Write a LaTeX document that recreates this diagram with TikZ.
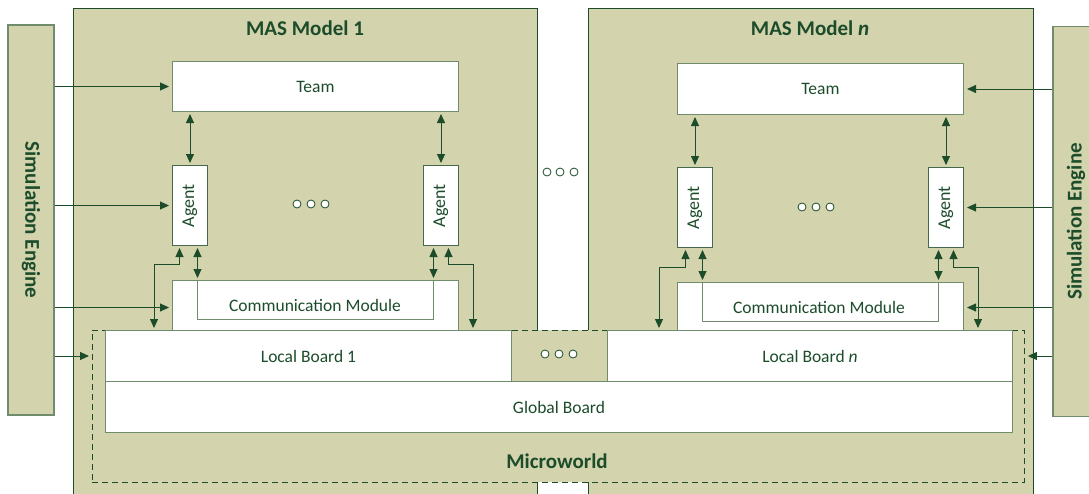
\documentclass[tikz,border=0pt]{standalone}
\usepackage{fontspec}
\setmainfont{Carlito}
\usetikzlibrary{arrows.meta}
\definecolor{olivefill}{RGB}{211,211,173}
\definecolor{dkg}{RGB}{28,76,42}
\definecolor{bord}{RGB}{112,140,108}
\definecolor{agbord}{RGB}{70,105,78}
\begin{document}
\begin{tikzpicture}[x=1pt,y=-1pt,
  box/.style={draw=bord, fill=white, line width=1pt, inner sep=0pt, text=dkg,
    font=\fontsize{17.5}{20}\selectfont, anchor=north west},
  agbox/.style={box, draw=agbord, font=\fontsize{18}{20}\selectfont},
  sebox/.style={draw=bord, fill=olivefill, line width=1.2pt, inner sep=0pt, text=dkg,
    font=\bfseries\fontsize{21}{24}\selectfont, minimum width=46pt, minimum height=390pt},
  masbox/.style={draw=dkg, fill=olivefill, line width=1pt, inner sep=0pt, anchor=north west},
  title/.style={text=dkg, font=\bfseries\fontsize{21}{24}\selectfont, anchor=base, inner sep=0pt},
  arr/.style={draw=dkg, line width=0.9pt, -{Triangle[length=9pt,width=8pt]}, shorten >=3pt},
  dbl/.style={draw=dkg, line width=0.9pt, {Triangle[length=9pt,width=8pt]}-{Triangle[length=9pt,width=8pt]}, shorten >=2pt, shorten <=2pt},
  inner/.style={draw=bord, line width=0.6pt},
  dot/.style={draw=dkg, fill=white, line width=0.8pt}
]
\useasboundingbox (0,0) rectangle (1089,493);
\clip (0,0) rectangle (1089,493);

% MAS model containers
\node[masbox, minimum width=464pt, minimum height=510pt] (mas1) at (73,8) {};
\node[masbox, minimum width=445pt, minimum height=510pt] (masn) at (588,8) {};
\node[title] (t1) at (305,35) {MAS Model 1};
\node[title] (tn) at (810,35) {MAS Model \textit{n}};

% Simulation engines
\node[sebox] (se1) at (31,220) {\rotatebox{-90}{Simulation Engine}};
\node[sebox] (se2) at (1076,221.5) {\rotatebox{90}{Simulation Engine}};

% Microworld
\node[draw=dkg, fill=olivefill, line width=0.9pt, dash pattern=on 6pt off 4pt,
  minimum width=932pt, minimum height=152pt, anchor=north west, inner sep=0pt] (mw) at (92,330) {};
\node[title] (mwt) at (557,468) {Microworld};

% Boards
\node[box, minimum width=406pt, minimum height=51pt] (lb1) at (105,330) {Local Board 1};
\node[box, minimum width=405pt, minimum height=51pt] (lbn) at (607,330) {Local Board \textit{n}};
\node[box, minimum width=907pt, minimum height=51pt] (gb) at (105,381) {Global Board};

% Teams
\node[box, minimum width=286pt, minimum height=50pt] (team1) at (172,61) {Team};
\node[box, minimum width=286pt, minimum height=51pt] (teamn) at (677,63) {Team};

% Agents
\node[agbox, minimum width=35pt, minimum height=80pt] (ag1a) at (172,165) {\rotatebox{90}{Agent}};
\node[agbox, minimum width=35pt, minimum height=80pt] (ag1b) at (423,165) {\rotatebox{90}{Agent}};
\node[agbox, minimum width=35pt, minimum height=80pt] (agna) at (677,167) {\rotatebox{90}{Agent}};
\node[agbox, minimum width=35pt, minimum height=80pt] (agnb) at (928,167) {\rotatebox{90}{Agent}};

% Communication modules
\node[box, minimum width=286pt, minimum height=50pt] (cm1) at (172,280) {};
\node[box, minimum width=286pt, minimum height=48pt] (cmn) at (677,282) {};
\draw[inner] ([xshift=7.5pt]ag1a.south |- cm1.north) -- ++(0,39) -| ([xshift=-7.5pt]ag1b.south |- cm1.north);
\draw[inner] ([xshift=7.5pt]agna.south |- cmn.north) -- ++(0,39) -| ([xshift=-7.5pt]agnb.south |- cmn.north);
\node[text=dkg, font=\fontsize{17.5}{20}\selectfont, inner sep=0pt] (cm1t) at (315,305) {Communication Module};
\node[text=dkg, font=\fontsize{17.5}{20}\selectfont, inner sep=0pt] (cmnt) at (819,307) {Communication Module};

% Simulation engine inputs
\draw[arr] (se1.east |- team1.west) -- (team1.west);
\draw[arr] (se1.east |- ag1a.west) -- (ag1a.west);
\draw[arr] ([yshift=-2pt]se1.east |- cm1.west) -- ([yshift=-2pt]cm1.west);
\draw[arr] (se1.east |- lb1.west) -- (mw.west |- lb1.west);
\draw[arr] (se2.west |- teamn.east) -- (teamn.east);
\draw[arr] (se2.west |- agnb.east) -- (agnb.east);
\draw[arr] ([yshift=-1pt]se2.west |- cmn.east) -- ([yshift=-1pt]cmn.east);
\draw[arr] (se2.west |- lbn.east) -- (mw.east |- lbn.east);

% Team <-> Agent
\draw[dbl] (ag1a.north) -- (ag1a.north |- team1.south);
\draw[dbl] (ag1b.north) -- (ag1b.north |- team1.south);
\draw[dbl] (agna.north) -- (agna.north |- teamn.south);
\draw[dbl] (agnb.north) -- (agnb.north |- teamn.south);

% Agent <-> Communication module
\draw[dbl] ([xshift=7.5pt]ag1a.south) -- ([xshift=7.5pt]ag1a.south |- cm1.north);
\draw[dbl] ([xshift=-7.5pt]ag1b.south) -- ([xshift=-7.5pt]ag1b.south |- cm1.north);
\draw[dbl] ([xshift=7.5pt]agna.south) -- ([xshift=7.5pt]agna.south |- cmn.north);
\draw[dbl] ([xshift=-7.5pt]agnb.south) -- ([xshift=-7.5pt]agnb.south |- cmn.north);

% Agent <-> Local board
\coordinate (c1a) at (154,330);
\coordinate (c1b) at (473,330);
\coordinate (cna) at (659,330);
\coordinate (cnb) at (978,330);
\draw[dbl] ([xshift=-10.5pt]ag1a.south) -- ++(0,18) -| (c1a);
\draw[dbl] ([xshift=7.5pt]ag1b.south) -- ++(0,18) -| (c1b);
\draw[dbl] ([xshift=-9.5pt]agna.south) -- ++(0,19) -| (cna);
\draw[dbl] ([xshift=7.5pt]agnb.south) -- ++(0,19) -| (cnb);

% Ellipsis dots
\foreach \x in {297,311,325} \draw[dot] (\x,204) circle (4pt);
\foreach \x in {802,816,830} \draw[dot] (\x,207) circle (4pt);
\foreach \x in {547,560,574} \draw[dot] (\x,172) circle (4pt);
\foreach \x in {545,559,573} \draw[dot] (\x,354) circle (4pt);
\end{tikzpicture}
\end{document}
